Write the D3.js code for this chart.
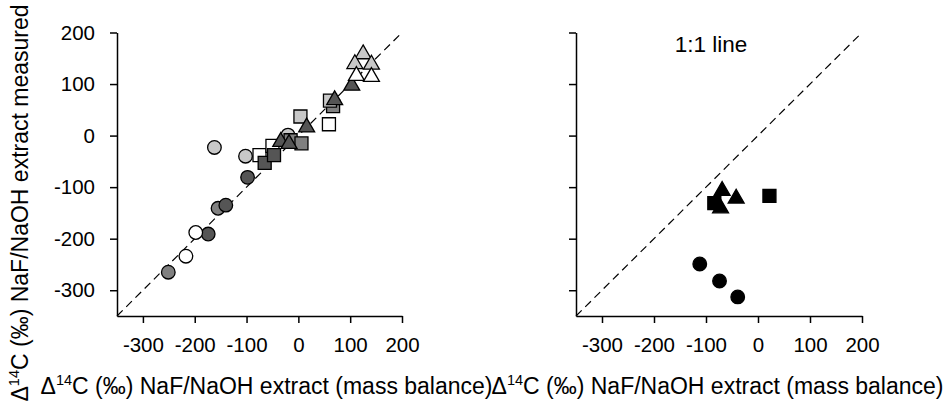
<!DOCTYPE html>
<html>
<head>
<meta charset="utf-8">
<script src="https://cdn.jsdelivr.net/npm/d3@7"></script>
<style>
  html, body { margin: 0; padding: 0; background: #fff; }
  svg { display: block; font-family: "Liberation Sans", Arial, sans-serif; }
</style>
</head>
<body>
<svg id="chart" width="945" height="406"></svg>
<script>
// ---- data ----
const xTicks = [-300, -200, -100, 0, 100, 200];
const yTicks = [-300, -200, -100, 0, 100, 200];
const axisDomain = [-350, 200];

// left panel series: [x, y] pairs
const leftCircleLight  = [[-162, -23], [-102, -40], [-20, 1]];
const leftCircleMedium = [[-155, -141], [-251, -265]];
const leftCircleDark   = [[-98, -81], [-140, -135], [-174, -191]];
const leftCircleWhite  = [[-198, -188], [-217, -234]];
const leftSquareWhite  = [[-75, -38], [-50, -20], [59, 22]];
const leftSquareLight  = [[4, 37], [61, 68]];
const leftSquareMedium = [[-15, -9], [6, -15], [67, 57]];
const leftSquareDark   = [[-65, -53], [-47, -38]];
const leftTriDark      = [[-34, -12], [-18, -16], [16, 16], [70, 69], [103, 97]];
const leftTriLight     = [[125, 158], [109, 139], [141, 138]];
const leftTriWhite     = [[112, 116], [141, 114]];

// right panel series
const rightCircle = [[-112, -249], [-74, -282], [-39, -313]];
const rightSquare = [[-84, -131], [22, -117]];
const rightTri    = [[-69, -107], [-42, -122], [-72, -141]];

const shades = ["white", "light", "medium", "dark", "black"];
const shadeColors = ["#ffffff", "#c8c8c8", "#808080", "#555555", "#000000"];

const leftSeries = [
  {shape: "circle", shade: "light",  pts: leftCircleLight},
  {shape: "circle", shade: "medium", pts: leftCircleMedium},
  {shape: "circle", shade: "dark",   pts: leftCircleDark},
  {shape: "circle", shade: "white",  pts: leftCircleWhite},
  {shape: "square", shade: "white",  pts: leftSquareWhite},
  {shape: "square", shade: "medium", pts: leftSquareMedium},
  {shape: "square", shade: "light",  pts: leftSquareLight},
  {shape: "square", shade: "dark",   pts: leftSquareDark},
  {shape: "triangle", shade: "dark",  pts: leftTriDark},
  {shape: "triangle", shade: "light", pts: leftTriLight},
  {shape: "triangle", shade: "white", pts: leftTriWhite}
];
const rightSeries = [
  {shape: "circle", shade: "black", pts: rightCircle},
  {shape: "square", shade: "black", pts: rightSquare},
  {shape: "triangle", shade: "black", pts: rightTri}
];

// ---- drawing ----
const svg = d3.select("#chart");
const color = d3.scaleOrdinal(shades, shadeColors);
const symbolType = {circle: d3.symbolCircle, square: d3.symbolSquare, triangle: d3.symbolTriangle};
const symbolSize = {circle: 145, square: 169, triangle: 110};

const y = d3.scaleLinear(axisDomain, [316, 32.5]);
const panels = [
  {x: d3.scaleLinear(axisDomain, [117, 402]), series: leftSeries, titleX: 266.5},
  {x: d3.scaleLinear(axisDomain, [576, 862]), series: rightSeries, titleX: 717.5}
];
const fmt = d => d3.format("d")(d).replace("−", "-");

panels.forEach((p, i) => {
  const g = svg.append("g");
  const x = p.x;

  // 1:1 dashed line
  g.append("line")
    .attr("x1", x(axisDomain[0])).attr("y1", y(axisDomain[0]))
    .attr("x2", x(axisDomain[1])).attr("y2", y(axisDomain[1]))
    .attr("stroke", "#000").attr("stroke-width", 1.2)
    .attr("stroke-dasharray", "8,5");

  // axes
  const ax = g.append("g")
    .attr("transform", `translate(0,${y(axisDomain[0])})`)
    .call(d3.axisBottom(x).tickValues(xTicks).tickSize(7).tickSizeOuter(0).tickPadding(14).tickFormat(fmt));
  const ay = g.append("g")
    .attr("transform", `translate(${x(axisDomain[0])},0)`)
    .call(d3.axisLeft(y).tickValues(yTicks).tickSize(7).tickSizeOuter(0).tickPadding(15)
      .tickFormat(i === 0 ? fmt : () => ""));
  [ax, ay].forEach(a => {
    a.selectAll("path.domain").attr("stroke", "#000").attr("stroke-width", 1.5);
    a.selectAll(".tick line").attr("stroke", "#000").attr("stroke-width", 1.5);
    a.selectAll(".tick text").attr("fill", "#000").style("font-size", "20.5px")
      .style("font-family", '"Liberation Sans", Arial, sans-serif');
  });

  // points
  p.series.forEach(s => {
    g.append("g").selectAll("path")
      .data(s.pts)
      .join("path")
      .attr("transform", d => `translate(${x(d[0])},${y(d[1])})`)
      .attr("d", d3.symbol(symbolType[s.shape], symbolSize[s.shape]))
      .attr("fill", color(s.shade))
      .attr("stroke", "#000")
      .attr("stroke-width", 1.3);
  });

  // x title
  const t = svg.append("text")
    .attr("x", p.titleX).attr("y", 394)
    .attr("text-anchor", "middle")
    .style("font-size", "23px").attr("fill", "#000");
  t.append("tspan").text("Δ");
  t.append("tspan").text("14").style("font-size", "14.5px").attr("dy", -9.5);
  t.append("tspan").text("C (‰) NaF/NaOH extract (mass balance)").attr("dy", 9.5);
});

// 1:1 line label
svg.append("text")
  .attr("x", 711).attr("y", 52)
  .attr("text-anchor", "middle")
  .style("font-size", "22.5px").attr("fill", "#000")
  .text("1:1 line");

// y title
const yt = svg.append("text")
  .attr("transform", "translate(28,203) rotate(-90)")
  .attr("text-anchor", "middle")
  .style("font-size", "23px").attr("fill", "#000");
yt.append("tspan").text("Δ");
yt.append("tspan").text("14").style("font-size", "14.5px").attr("dy", -9.5);
yt.append("tspan").text("C (‰) NaF/NaOH extract measured").attr("dy", 9.5);
</script>
</body>
</html>
